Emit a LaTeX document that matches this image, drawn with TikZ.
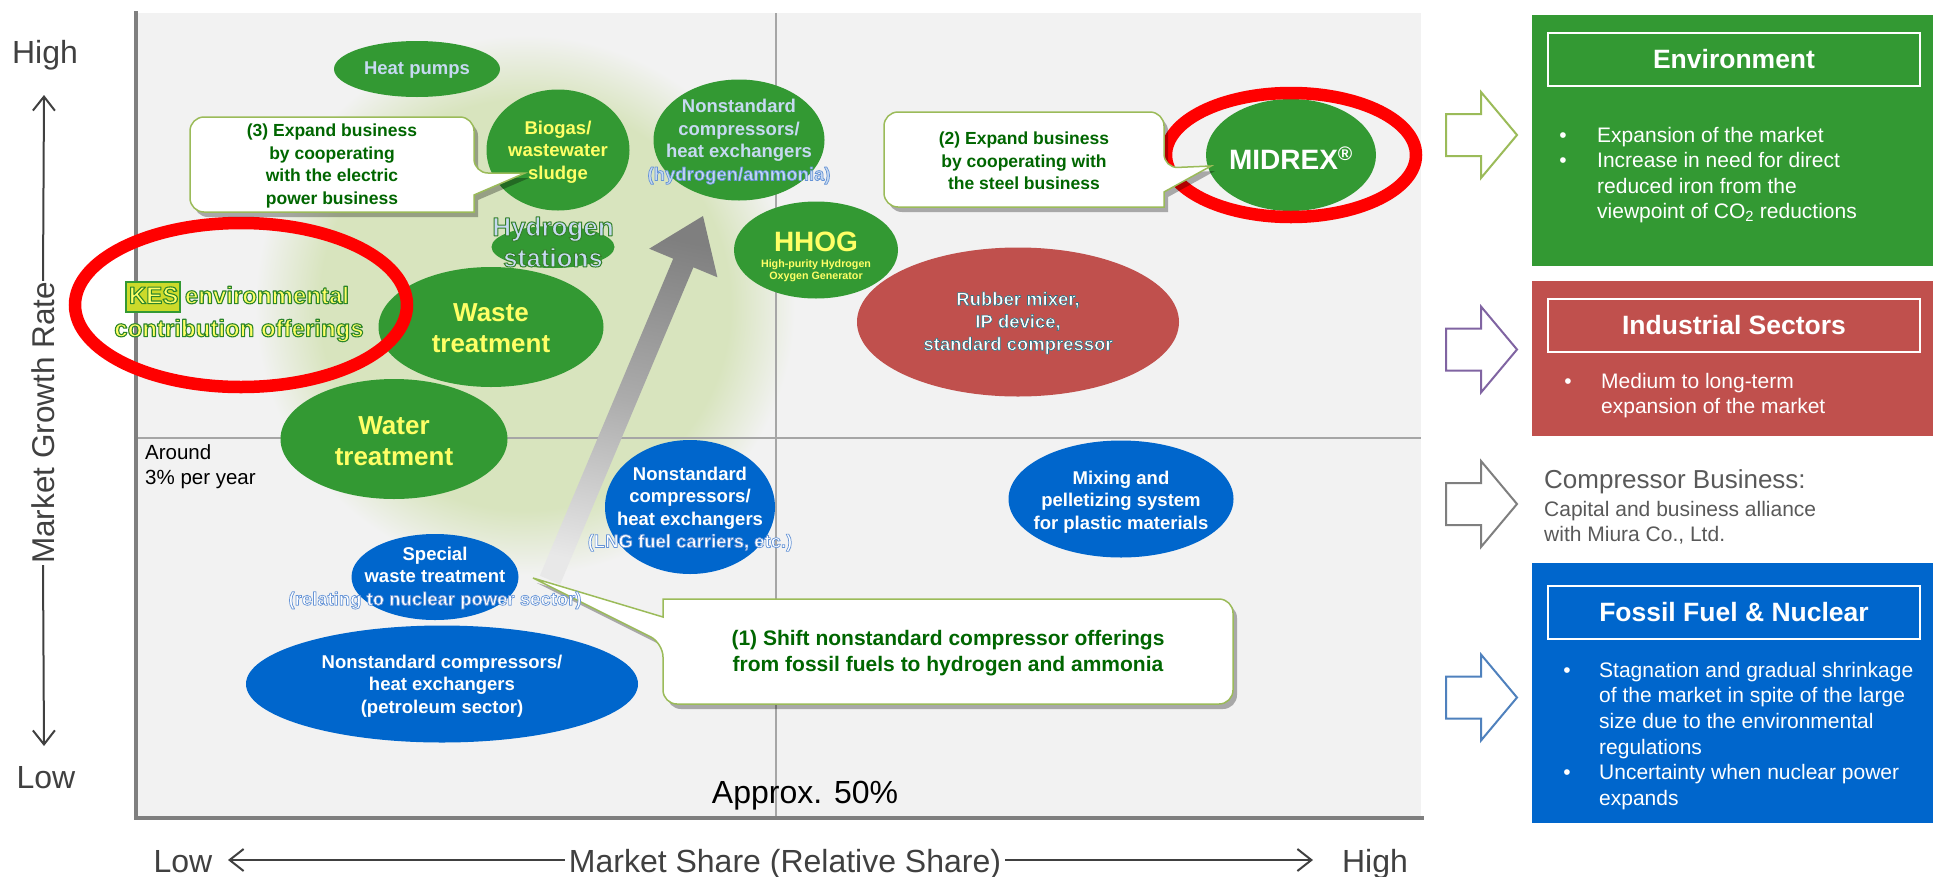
\documentclass[tikz,border=0pt]{standalone}
\usepackage{fontspec}
\setmainfont{Liberation Sans}
\usetikzlibrary{shapes.geometric,arrows.meta,shadows}

\definecolor{kgreen}{HTML}{339933}
\definecolor{kred}{HTML}{C0504D}
\definecolor{kblue}{HTML}{0066CC}
\definecolor{plotbg}{HTML}{F2F2F2}
\definecolor{glowc}{HTML}{D8E4BE}
\definecolor{paleblue}{HTML}{C6D9F1}
\definecolor{kyellow}{HTML}{FFFF66}
\definecolor{ctext}{HTML}{006600}
\definecolor{cborder}{HTML}{9BBB59}
\definecolor{ringred}{HTML}{FF0000}
\definecolor{axisgray}{HTML}{7F7F7F}
\definecolor{midgray}{HTML}{A6A6A6}
\definecolor{labgray}{HTML}{404040}
\definecolor{txtgray}{HTML}{595959}
\definecolor{arrgreen}{HTML}{9BBB59}
\definecolor{arrpurple}{HTML}{8064A2}
\definecolor{arrgray}{HTML}{7F7F7F}
\definecolor{arrblue}{HTML}{4F81BD}
\definecolor{kesfill}{HTML}{CCDA2A}
\definecolor{arrdark}{HTML}{7F7F7F}
\definecolor{arrmid}{HTML}{ACACAC}
\definecolor{arrlight}{HTML}{E8E8E8}

\pgfdeclareradialshading{glowshade}{\pgfpointorigin}{color(0bp)=(glowc); color(19bp)=(glowc); color(25bp)=(plotbg); color(50bp)=(plotbg)}

\newcommand\fs[2]{\fontsize{#1}{#2}\selectfont}
% outlined text: stroke colour (r g b), stroke width, text
\newcommand\outl[3]{\special{pdf:literal direct #1 RG #2 w 1 j 2 Tr}#3\special{pdf:literal direct 0 Tr}}
\newcommand\kesoutl[1]{\outl{0.17 0.52 0.17}{1.1}{#1}}
\newcommand\houtl[1]{\outl{0.20 0.50 0.16}{1.0}{#1}}
\newcommand\toutl[1]{\outl{0.18 0.447 0.514}{0.6}{#1}}
\newcommand\boutl[1]{\outl{0.40 0.58 0.84}{0.7}{#1}}

\tikzset{
  ell/.style 2 args={ellipse,inner sep=0pt,minimum width=#1,minimum height=#2},
  bt/.style={align=center,inner sep=0pt,font=\bfseries\fs{18.5}{22.5}},
  bigt/.style={align=center,inner sep=0pt,font=\bfseries\fs{26}{31}},
  ring/.style={ellipse,draw=ringred,line width=12.5pt,inner sep=0pt},
  callout/.style={fill=white,draw=cborder,line width=1.5pt,
    drop shadow={shadow xshift=4pt,shadow yshift=-5pt,opacity=0.3,fill=black}},
  ct/.style={align=center,inner sep=0pt,text=ctext,font=\bfseries\fs{17.5}{22.5}},
  midline/.style={draw=midgray,line width=1.5pt},
  axisline/.style={draw=axisgray,line width=4.5pt},
  axlab/.style={text=labgray,inner sep=0pt,font=\fs{32}{36}},
  axarr/.style={draw=labgray,line width=2pt,-{Straight Barb[length=14pt,width=22pt]}},
  titlebox/.style={draw=white,line width=2pt,inner sep=0pt,text=white,
    minimum width=372,minimum height=53,anchor=north west,font=\bfseries\fs{26.5}{30}},
  pt/.style={anchor=base west,inner sep=0pt,text=white,font=\fs{21}{25}},
  bul/.style={anchor=base,inner sep=0pt,text=white,font=\fs{21}{25}},
  gt/.style={anchor=base west,inner sep=0pt,text=txtgray,font=\fs{21}{25}},
  blockarr/.pic={\path[pic actions,fill=white] (0,-21) -- (35,-21) -- (35,-43) -- (71,0) -- (35,43) -- (35,21) -- (0,21) -- cycle;}
}

\begin{document}
\begin{tikzpicture}[x=1pt,y=-1pt]
\useasboundingbox (0,0) rectangle (1933,876);

% plot area
\fill[plotbg] (136,13) rectangle (1421,818);
\node[circle,inner sep=0pt,minimum size=540pt,shade,shading=glowshade] (glow) at (525,305) {};
\draw[midline] (776,13) -- (776,818);
\draw[midline] (136,438) -- (1421,438);
\draw[axisline] (136,11) -- (136,818) -- (1424,818);

% bubbles
\node[ell={166}{56},fill=kgreen] (heat) at (417,69) {};
\node[ell={143}{121},fill=kgreen] (bio) at (558,150) {};
\node[ell={123}{42},fill=kgreen] (h2) at (553,247) {};
\node[ell={171}{121},fill=kgreen] (nsh) at (739,140) {};
\node[ell={164}{97},fill=kgreen] (hhog) at (816,250) {};
\node[ell={170}{112},fill=kgreen] (midrex) at (1291,155) {};
\node[ell={322}{149},fill=kred] (rub) at (1018,322) {};
\node[ell={225}{117},fill=kblue] (mix) at (1121,499) {};
\node[ell={170}{134},fill=kblue] (lng) at (690,507) {};
\node[ell={167}{86},fill=kblue] (spw) at (435,577) {};
\node[ell={392}{117},fill=kblue] (pet) at (442,684) {};
\node[ell={225}{120},fill=kgreen] (waste) at (491,327) {};
\node[ell={227}{120},fill=kgreen] (water) at (394,439) {};

% big gray arrow
\shade[top color=arrdark,bottom color=arrlight,middle color=arrmid,shading angle=-11.5]
  (539.9,575.7) -- (673.2,258.7) -- (649.2,248.7) -- (703,216) -- (717.4,277.3) -- (693.4,267.3) -- (560.1,584.3) -- cycle;

% red rings
\node[ring,minimum width=250,minimum height=124] (ring-midrex) at (1291,155) {};
\node[ring,minimum width=332,minimum height=164] (ring-kes) at (241,305) {};

% callouts
\path[callout] (332,117) [rounded corners=14pt] -- (474,117) -- (474,173) [sharp corners] -- (525,173) -- (474,195) -- (474,212) [rounded corners=14pt] -- (190,212) -- (190,117) -- cycle;
\path[callout] (1024,112) [rounded corners=14pt] -- (1164,112) -- (1164,168) [sharp corners] -- (1211,166) -- (1164,192) -- (1164,207) [rounded corners=14pt] -- (884,207) -- (884,112) -- cycle;
\path[callout] (948,599) [rounded corners=14pt] -- (1233,599) -- (1233,704) -- (663,704) -- (663,643) [sharp corners] -- (533,578) -- (663,617) -- (663,599) [rounded corners=14pt] -- cycle;

\node[ct] (c3-t) at (332,166) {(3) Expand business\\by cooperating\\with the electric\\power business};
\node[ct] (c2-t) at (1024,161) {(2) Expand business\\by cooperating with\\the steel business};
\node[ct,font=\bfseries\fs{21}{26}] (c1-t) at (948,653) {(1) Shift nonstandard compressor offerings\\from fossil fuels to hydrogen and ammonia};

% bubble texts
\node[bt,text=paleblue] (heat-t) at (417,70) {Heat pumps};
\node[bt,text=kyellow] (bio-t) at (558,152) {Biogas/\\wastewater\\sludge};
\node[bigt,text=paleblue] (h2-t) at (553,242) {\houtl{Hydrogen}\\\houtl{stations}};
\node[bt,text=paleblue] (nsh-t) at (739,142) {Nonstandard\\compressors/\\heat exchangers\\\boutl{(hydrogen/ammonia)}};
\node[inner sep=0pt,text=kyellow,font=\bfseries\fs{28}{30}] (hhog-t) at (816,242) {HHOG};
\node[bt,text=kyellow,font=\bfseries\fs{10.7}{12.5}] (hhog-s) at (816,271) {High-purity Hydrogen\\Oxygen Generator};
\node[inner sep=0pt,text=white,font=\bfseries\fs{28}{30}] (midrex-t) at (1291,158) {MIDREX\textsuperscript{®}};
\node[bt,text=white] (rub-t) at (1018,323) {\toutl{Rubber mixer,}\\\toutl{IP device,}\\\toutl{standard compressor}};
\node[bt,text=white] (mix-t) at (1121,502) {Mixing and\\pelletizing system\\for plastic materials};
\node[bt,text=white] (lng-t) at (690,509) {Nonstandard\\compressors/\\heat exchangers\\\boutl{(LNG fuel carriers, etc.)}};
\node[bt,text=white] (spw-t) at (435,578) {Special\\waste treatment\\\boutl{(relating to nuclear power sector)}};
\node[bt,text=white] (pet-t) at (442,686) {Nonstandard compressors/\\heat exchangers\\(petroleum sector)};
\node[bigt,text=kyellow] (waste-t) at (491,328) {Waste\\treatment};
\node[bigt,text=kyellow] (water-t) at (394,441) {Water\\treatment};

% KES label
\node[draw=kgreen,fill=kesfill,line width=1.5pt,inner sep=0pt,minimum width=54,minimum height=30] (kesbox) at (153,297) {};
\node[align=center,inner sep=0pt,text=kyellow,font=\bfseries\fs{24}{33}] (kes-t) at (239,314)
  {\kesoutl{KES environmental}\\\kesoutl{contribution offerings}};

\node[anchor=base west,inner sep=0pt,font=\fs{20.5}{25}] (around1) at (145,459) {Around};
\node[anchor=base west,inner sep=0pt,font=\fs{20.5}{25}] (around2) at (145,484) {3\% per year};
\node[anchor=base,inner sep=0pt,font=\fs{32}{36}] (approx) at (805,803) {Approx. 50\%};

% axis labels
\node[axlab,anchor=base] (yhigh) at (45,63) {High};
\node[axlab,anchor=base] (ylow) at (46,788) {Low};
\node[axlab,rotate=90,inner sep=1pt,font=\fs{31.5}{36}] (ylab) at (43,423) {Market Growth Rate};
\coordinate (ytop) at (44,95);
\coordinate (ybot) at (44,746);
\draw[axarr] (ylab.east) -- (ytop);
\draw[axarr] (ylab.west) -- (ybot);

\node[axlab,anchor=base] (xlow) at (183,872) {Low};
\node[axlab,anchor=base,inner sep=4pt] (xlab) at (785,872) {Market Share (Relative Share)};
\node[axlab,anchor=base] (xhigh) at (1375,872) {High};
\coordinate (xl) at (228,860);
\coordinate (xr) at (1313,860);
\draw[axarr] (xlab.west |- xl) -- (xl);
\draw[axarr] (xlab.east |- xr) -- (xr);

% right panel: arrows
\pic[draw=arrgreen,line width=2pt] (ar1) at (1446,135) {blockarr};
\pic[draw=arrpurple,line width=2pt] (ar2) at (1446,349.5) {blockarr};
\pic[draw=arrgray,line width=2pt] (ar3) at (1446,504) {blockarr};
\pic[draw=arrblue,line width=2pt] (ar4) at (1446,697.5) {blockarr};

% Environment
\node[fill=kgreen,inner sep=0pt,minimum width=401,minimum height=251,anchor=north west] (envbox) at (1532,15) {};
\node[titlebox] (envtitle) at (1547,32) {Environment};
\node[bul] (eb1) at (1563,142) {\textbullet};
\node[pt] (e1) at (1597,142) {Expansion of the market};
\node[bul] (eb2) at (1563,167) {\textbullet};
\node[pt] (e2) at (1597,167) {Increase in need for direct};
\node[pt] (e3) at (1597,193) {reduced iron from the};
\node[pt] (e4) at (1597,218) {viewpoint of CO\textsubscript{2} reductions};

% Industrial
\node[fill=kred,inner sep=0pt,minimum width=401,minimum height=155,anchor=north west] (indbox) at (1532,281) {};
\node[titlebox] (indtitle) at (1547,298) {Industrial Sectors};
\node[bul] (ib1) at (1568,388) {\textbullet};
\node[pt] (i1) at (1601,388) {Medium to long-term};
\node[pt] (i2) at (1601,413) {expansion of the market};

% Compressor
\node[gt,font=\fs{26}{30}] (cb1) at (1544,488) {Compressor Business:};
\node[gt] (cb2) at (1544,516) {Capital and business alliance};
\node[gt] (cb3) at (1544,541) {with Miura Co., Ltd.};

% Fossil
\node[fill=kblue,inner sep=0pt,minimum width=401,minimum height=260,anchor=north west] (fosbox) at (1532,563) {};
\node[titlebox] (fostitle) at (1547,585) {Fossil Fuel \& Nuclear};
\node[bul] (fb1) at (1567,677) {\textbullet};
\node[pt] (f1) at (1599,677) {Stagnation and gradual shrinkage};
\node[pt] (f2) at (1599,702.5) {of the market in spite of the large};
\node[pt] (f3) at (1599,728) {size due to the environmental};
\node[pt] (f4) at (1599,754) {regulations};
\node[bul] (fb2) at (1567,779.5) {\textbullet};
\node[pt] (f5) at (1599,779.5) {Uncertainty when nuclear power};
\node[pt] (f6) at (1599,805) {expands};
\end{tikzpicture}
\end{document}
